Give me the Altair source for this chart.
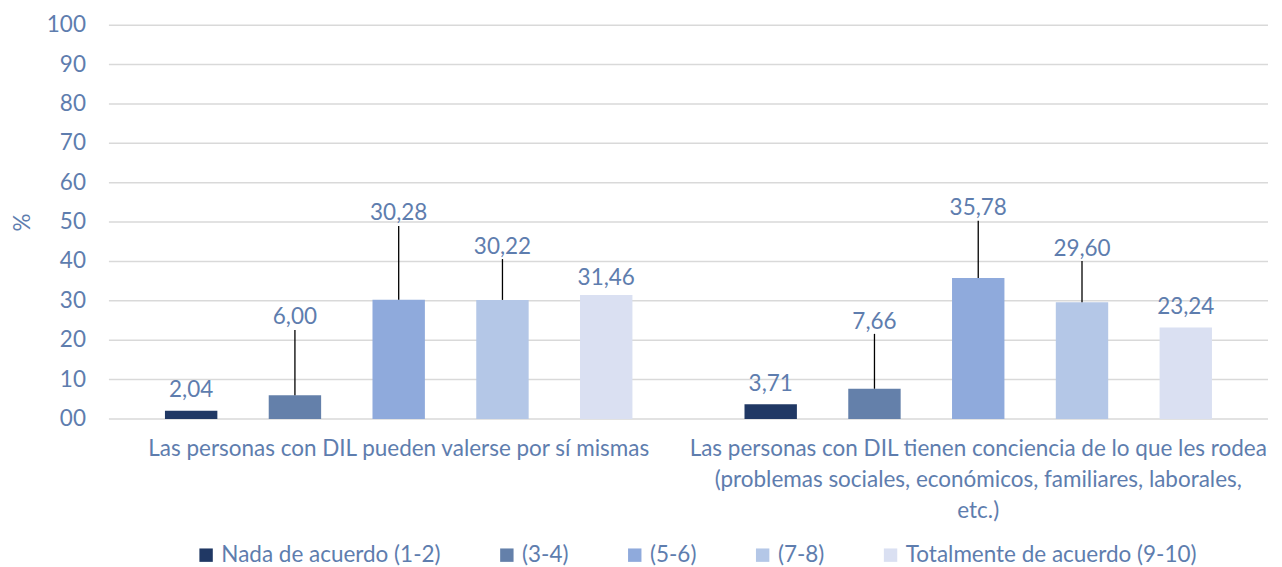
import json
import altair as alt
import pandas as pd

categories = [
    "Las personas con DIL pueden valerse por sí mismas",
    "Las personas con DIL tienen conciencia de lo que les rodea (problemas sociales, económicos, familiares, laborales, etc.)",
]
category_label_lines = [
    ["Las personas con DIL pueden valerse por sí mismas"],
    ["Las personas con DIL tienen conciencia de lo que les rodea",
     "(problemas sociales, económicos, familiares, laborales,",
     "etc.)"],
]
series = ["Nada de acuerdo (1-2)", "(3-4)", "(5-6)", "(7-8)", "Totalmente de acuerdo (9-10)"]
values_cat1 = [2.04, 6.00, 30.28, 30.22, 31.46]
values_cat2 = [3.71, 7.66, 35.78, 29.60, 23.24]
# where the data labels sit (in % units) and where leader lines end
label_pos_cat1 = [7.4, 25.9, 52.3, 43.7, 35.8]
label_pos_cat2 = [8.9, 24.6, 53.6, 43.1, 28.4]
leader_top_cat1 = [None, 22.6, 49.0, 40.6, None]
leader_top_cat2 = [None, 21.6, 50.3, 40.1, None]
colors = ["#203864", "#6480AA", "#8FAADC", "#B4C7E7", "#DAE0F2"]
y_ticks = [0, 10, 20, 30, 40, 50, 60, 70, 80, 90, 100]
y_tick_labels = ["00", "10", "20", "30", "40", "50", "60", "70", "80", "90", "100"]

TEXT = "#5E7DAE"
FONT = "Lato"
FS = 22.5

rows = []
for cat, vals, lp, lt in [
    (categories[0], values_cat1, label_pos_cat1, leader_top_cat1),
    (categories[1], values_cat2, label_pos_cat2, leader_top_cat2),
]:
    for s, v, p, t in zip(series, vals, lp, lt):
        rows.append({
            "cat": cat, "serie": s, "value": v,
            "label": f"{v:.2f}".replace(".", ","),
            "label_y": p, "leader_top": t,
        })
df = pd.DataFrame(rows)
ticks_df = pd.DataFrame({"tick": y_ticks, "tick_label": y_tick_labels})

label_expr = " : ".join(
    [f"datum.value == {json.dumps(c)} ? {json.dumps(lines)}" for c, lines in zip(categories, category_label_lines)]
) + " : datum.label"

x_enc = alt.X("cat:N", sort=categories,
              scale=alt.Scale(paddingInner=0, paddingOuter=0),
              axis=alt.Axis(title=None, labelAngle=0, domain=False, ticks=False,
                            labelPadding=19, labelLimit=1000, labelFontSize=FS,
                            labelColor=TEXT, labelFont=FONT, labelLineHeight=31,
                            labelExpr=label_expr, grid=False))
xoff = alt.XOffset("serie:N", sort=series,
                   scale=alt.Scale(paddingInner=0.495, paddingOuter=0.54))

y_scale = alt.Scale(domain=[0, 100], nice=False)
y_axis = alt.Axis(title="%", labels=False, domain=False, ticks=False, grid=False,
                  titleFontSize=FS, titleColor=TEXT, titleFont=FONT,
                  titleFontWeight="normal", titlePadding=74)

# gridlines and tick labels drawn from the tick list through the y scale
grid = alt.Chart(ticks_df).mark_rule(color="#D9D9D9", strokeWidth=1.5).encode(
    y=alt.Y("tick:Q", scale=y_scale, axis=y_axis))
tick_text = alt.Chart(ticks_df).mark_text(
    fontSize=FS, font=FONT, color=TEXT, align="right", baseline="middle", dx=-23
).encode(x=alt.value(0), y=alt.Y("tick:Q", scale=y_scale, axis=y_axis), text="tick_label:N")

base = alt.Chart(df)

bars = base.mark_bar().encode(
    x=x_enc, xOffset=xoff,
    y=alt.Y("value:Q", scale=y_scale, axis=y_axis),
    color=alt.Color("serie:N", sort=series,
                    scale=alt.Scale(domain=series, range=colors),
                    legend=alt.Legend(title=None, orient="none", direction="horizontal",
                                      legendX=86, legendY=519,
                                      symbolType="square", symbolSize=180, symbolStrokeWidth=0,
                                      labelFontSize=FS, labelColor=TEXT, labelFont=FONT,
                                      columnPadding=55, labelLimit=400)),
)

rules = base.transform_filter("isValid(datum.leader_top)").mark_rule(
    color="#000000", strokeWidth=1.3
).encode(x=x_enc, xOffset=xoff,
         y=alt.Y("value:Q", scale=y_scale, axis=y_axis), y2="leader_top:Q")

texts = base.mark_text(fontSize=FS, font=FONT, color=TEXT, baseline="middle").encode(
    x=x_enc, xOffset=xoff, y=alt.Y("label_y:Q", scale=y_scale, axis=y_axis), text="label:N")

chart = alt.layer(grid, tick_text, bars, rules, texts).properties(
    width=1160, height=394,
    padding={"left": 4, "top": 6, "right": 5, "bottom": 0},
).configure_view(stroke=None)

chart.save("out.html", embed_options={"renderer": "svg", "actions": False})
